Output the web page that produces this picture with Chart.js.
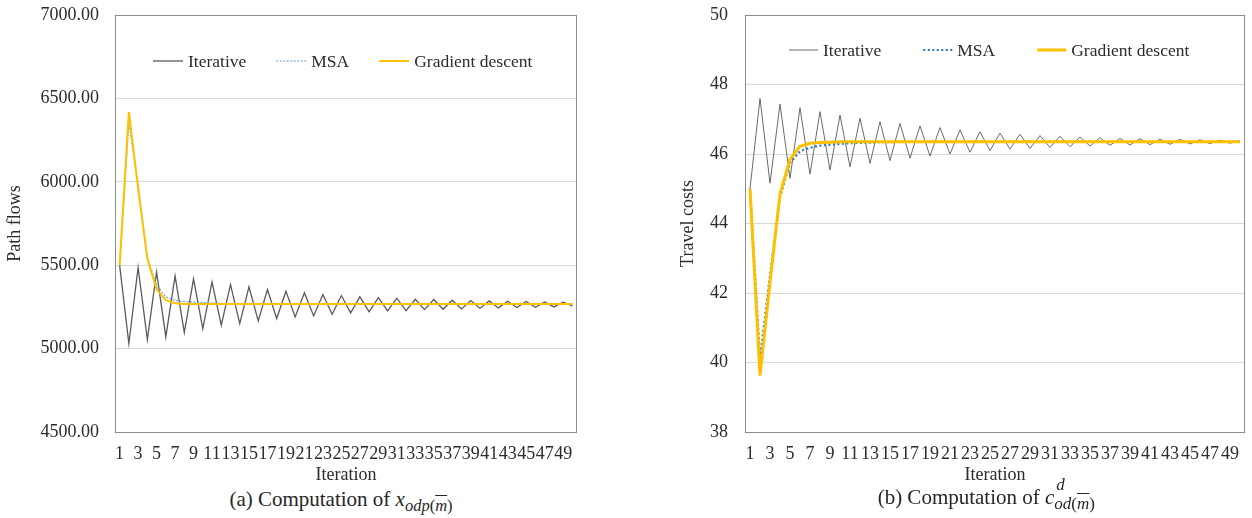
<!DOCTYPE html>
<html>
<head>
<meta charset="utf-8">
<script src="https://cdn.jsdelivr.net/npm/chart.js@4.4.0/dist/chart.umd.min.js"></script>
<style>
  html, body { margin: 0; padding: 0; background: #fff; }
  body { width: 1252px; height: 518px; position: relative; overflow: hidden; font-family: 'Liberation Serif', serif; color: #262626; }
  .panel { position: absolute; top: 0; height: 486px; }
  #wrapA { left: 0; width: 620px; }
  #wrapB { left: 630px; width: 622px; }
  .caption { position: absolute; font-size: 21px; white-space: nowrap; transform: translateX(-50%); line-height: 24px; height: 24px; }
  #capA { left: 341px; top: 487px; }
  #capB { left: 996px; top: 485px; }
  .sub { font-size: 16.5px; position: relative; top: 5px; font-style: italic; }
  .ss { display: inline-block; position: relative; width: 60px; height: 20px; vertical-align: top; font-size: 17px; font-style: italic; line-height: 16px; }
  .ss .up { position: absolute; left: 2px; top: -8px; }
  .ss .dn { position: absolute; left: 0; top: 11px; }
  .bar { text-decoration: overline; }
</style>
</head>
<body>
<div class="panel" id="wrapA"><canvas id="chartA" width="620" height="486"></canvas></div>
<div class="panel" id="wrapB"><canvas id="chartB" width="622" height="486"></canvas></div>
<div class="caption" id="capA">(a) Computation of <i>x</i><span class="sub">odp<span style="font-style:normal">(</span><span class="bar">m</span><span style="font-style:normal">)</span></span></div>
<div class="caption" id="capB">(b) Computation of <i>c</i><span class="ss"><span class="up">d</span><span class="dn">od<span style="font-style:normal">(</span><span class="bar">m</span><span style="font-style:normal">)</span></span></span></div>

<script>
// Iteration categories (x axis)
const iterations = [1, 2, 3, 4, 5, 6, 7, 8, 9, 10,
    11, 12, 13, 14, 15, 16, 17, 18, 19, 20,
    21, 22, 23, 24, 25, 26, 27, 28, 29, 30,
    31, 32, 33, 34, 35, 36, 37, 38, 39, 40,
    41, 42, 43, 44, 45, 46, 47, 48, 49, 50];

const seriesNames = ['Iterative', 'MSA', 'Gradient descent'];

// (a) path flows
const flowIterative = [5500, 5030, 5486, 5054, 5460, 5070, 5436, 5096, 5418, 5120,
    5400, 5140, 5384, 5150, 5370, 5166, 5354, 5180, 5344, 5190,
    5334, 5196, 5324, 5206, 5318, 5214, 5310, 5220, 5306, 5226,
    5302, 5228, 5296, 5234, 5294, 5236, 5290, 5238, 5288, 5242,
    5286, 5244, 5284, 5246, 5282, 5248, 5280, 5250, 5278, 5256];
const flowMSA = [5500, 6350, 5990, 5545, 5380, 5310, 5288, 5282, 5279, 5276,
    5273, 5271, 5270, 5269, 5269, 5268, 5268, 5268, 5268, 5268,
    5268, 5268, 5268, 5268, 5268, 5268, 5268, 5268, 5268, 5268,
    5268, 5268, 5268, 5268, 5268, 5268, 5268, 5268, 5268, 5268,
    5268, 5268, 5268, 5268, 5268, 5268, 5268, 5268, 5268, 5268];
const flowGradient = [5500, 6418, 5960, 5540, 5355, 5290, 5272, 5268, 5268, 5268,
    5268, 5268, 5268, 5268, 5268, 5268, 5268, 5268, 5268, 5268,
    5268, 5268, 5268, 5268, 5268, 5268, 5268, 5268, 5268, 5268,
    5268, 5268, 5268, 5268, 5268, 5268, 5268, 5268, 5268, 5268,
    5268, 5268, 5268, 5268, 5268, 5268, 5268, 5268, 5268, 5268];
const flowTicks = { min: 4500, max: 7000, step: 500 };

// (b) travel costs
const costIterative = [45.00, 47.60, 45.16, 47.44, 45.30, 47.33, 45.42, 47.22, 45.54, 47.12,
    45.63, 47.03, 45.73, 46.93, 45.81, 46.88, 45.88, 46.81, 45.94, 46.76,
    46.00, 46.69, 46.05, 46.64, 46.10, 46.60, 46.14, 46.57, 46.16, 46.53,
    46.19, 46.51, 46.21, 46.49, 46.23, 46.47, 46.25, 46.45, 46.26, 46.44,
    46.27, 46.43, 46.28, 46.42, 46.29, 46.41, 46.30, 46.40, 46.31, 46.39];
const costMSA = [45.00, 40.10, 42.50, 44.75, 45.75, 46.08, 46.18, 46.24, 46.27, 46.29,
    46.31, 46.32, 46.33, 46.34, 46.34, 46.35, 46.35, 46.35, 46.35, 46.35,
    46.35, 46.35, 46.35, 46.35, 46.35, 46.35, 46.35, 46.35, 46.35, 46.35,
    46.35, 46.35, 46.35, 46.35, 46.35, 46.35, 46.35, 46.35, 46.35, 46.35,
    46.35, 46.35, 46.35, 46.35, 46.35, 46.35, 46.35, 46.35, 46.35, 46.35];
const costGradient = [45.00, 39.62, 42.30, 44.85, 45.85, 46.22, 46.31, 46.33, 46.34, 46.35,
    46.35, 46.35, 46.35, 46.35, 46.35, 46.35, 46.35, 46.35, 46.35, 46.35,
    46.35, 46.35, 46.35, 46.35, 46.35, 46.35, 46.35, 46.35, 46.35, 46.35,
    46.35, 46.35, 46.35, 46.35, 46.35, 46.35, 46.35, 46.35, 46.35, 46.35,
    46.35, 46.35, 46.35, 46.35, 46.35, 46.35, 46.35, 46.35, 46.35, 46.35];
const costTicks = { min: 38, max: 50, step: 2 };

const serif = 'Liberation Serif';
const textColor = '#2b2b2b';

// box around the plot area
const plotFrame = {
    id: 'plotFrame',
    beforeDatasetsDraw(chart) {
        const a = chart.chartArea;
        const ctx = chart.ctx;
        ctx.save();
        ctx.strokeStyle = '#8c8c8c';
        ctx.lineWidth = 1;
        ctx.strokeRect(Math.round(a.left) + 0.5, Math.round(a.top) + 0.5,
            Math.round(a.right - a.left) - 1, Math.round(a.bottom - a.top));
        ctx.restore();
    }
};

// legend drawn inside the plot, like the original
const innerLegend = {
    id: 'innerLegend',
    afterDraw(chart, args, opts) {
        const ctx = chart.ctx;
        let x = chart.chartArea.left + opts.start;
        const y = opts.y;
        ctx.save();
        ctx.font = opts.fontSize + 'px ' + serif;
        ctx.textBaseline = 'middle';
        chart.data.datasets.forEach(ds => {
            ctx.beginPath();
            ctx.strokeStyle = ds.borderColor;
            ctx.lineWidth = ds.borderWidth;
            ctx.setLineDash(ds.borderDash || []);
            ctx.moveTo(x, y);
            ctx.lineTo(x + opts.sample, y);
            ctx.stroke();
            ctx.setLineDash([]);
            ctx.fillStyle = textColor;
            ctx.fillText(ds.label, x + opts.sample + 5, y + 1);
            x += opts.sample + 5 + ctx.measureText(ds.label).width + opts.gap;
        });
        ctx.restore();
    }
};

function makeChart(id, cfg) {
    const ctx = document.getElementById(id).getContext('2d');
    return new Chart(ctx, {
        type: 'line',
        data: {
            labels: iterations,
            datasets: [
                {
                    label: seriesNames[0], data: cfg.iterative,
                    borderColor: cfg.iterColor, borderWidth: cfg.iterWidth, order: 2
                },
                {
                    label: seriesNames[1], data: cfg.msa,
                    borderColor: cfg.msaColor, borderWidth: cfg.msaWidth, borderDash: cfg.msaDash, order: 1
                },
                {
                    label: seriesNames[2], data: cfg.gradient,
                    borderColor: '#FFC000', borderWidth: cfg.gdWidth, order: 0
                }
            ]
        },
        options: {
            responsive: false,
            animation: false,
            devicePixelRatio: 1,
            elements: { point: { radius: 0 }, line: { tension: 0 } },
            layout: { padding: { left: 0, right: cfg.padRight, top: 15, bottom: 0 } },
            plugins: {
                legend: { display: false },
                tooltip: { enabled: false },
                innerLegend: cfg.legend
            },
            scales: {
                x: {
                    offset: true,
                    grid: { display: false },
                    border: { display: false },
                    ticks: {
                        autoSkip: false,
                        maxRotation: 0,
                        padding: 3,
                        color: textColor,
                        font: { family: serif, size: 18 },
                        callback: function (value, index) {
                            return index % 2 === 0 ? this.getLabelForValue(value) : '';
                        }
                    },
                    title: {
                        display: true, text: 'Iteration', color: textColor,
                        font: { family: serif, size: 18 }, padding: { top: 0, bottom: 0 }
                    },
                    afterFit: s => { s.height = 54; }
                },
                y: {
                    min: cfg.ticks.min,
                    max: cfg.ticks.max,
                    grid: { color: '#d9d9d9', drawTicks: false },
                    border: { display: false },
                    ticks: {
                        stepSize: cfg.ticks.step,
                        padding: cfg.tickPad,
                        color: textColor,
                        font: { family: serif, size: 18 },
                        callback: cfg.format
                    },
                    title: {
                        display: true, text: cfg.yTitle, color: textColor,
                        font: { family: serif, size: 18 }, padding: { top: cfg.titlePad, bottom: 0 }
                    },
                    afterFit: s => {
                        s.width = 115;
                        s.paddingTop = 10;
                        s.paddingBottom = 10;
                    }
                }
            }
        },
        plugins: [plotFrame, innerLegend]
    });
}

makeChart('chartA', {
    iterative: flowIterative, msa: flowMSA, gradient: flowGradient,
    iterColor: '#5a5a5a', iterWidth: 1.3,
    msaColor: '#5B9BD5', msaWidth: 1.1, msaDash: [2, 1.5],
    gdWidth: 2,
    ticks: flowTicks,
    format: v => Number(v).toFixed(2),
    yTitle: 'Path flows', titlePad: 4, tickPad: 16,
    padRight: 43,
    legend: { start: 38, y: 61, sample: 30, gap: 30, fontSize: 17.5 }
});

makeChart('chartB', {
    iterative: costIterative, msa: costMSA, gradient: costGradient,
    iterColor: '#6a6a6a', iterWidth: 1,
    msaColor: '#2E75B6', msaWidth: 2.2, msaDash: [2, 2.5],
    gdWidth: 3,
    ticks: costTicks,
    format: v => String(v),
    yTitle: 'Travel costs', titlePad: 47, tickPad: 17,
    padRight: 7,
    legend: { start: 44, y: 50, sample: 29, gap: 42, fontSize: 17.5 }
});
</script>
</body>
</html>
